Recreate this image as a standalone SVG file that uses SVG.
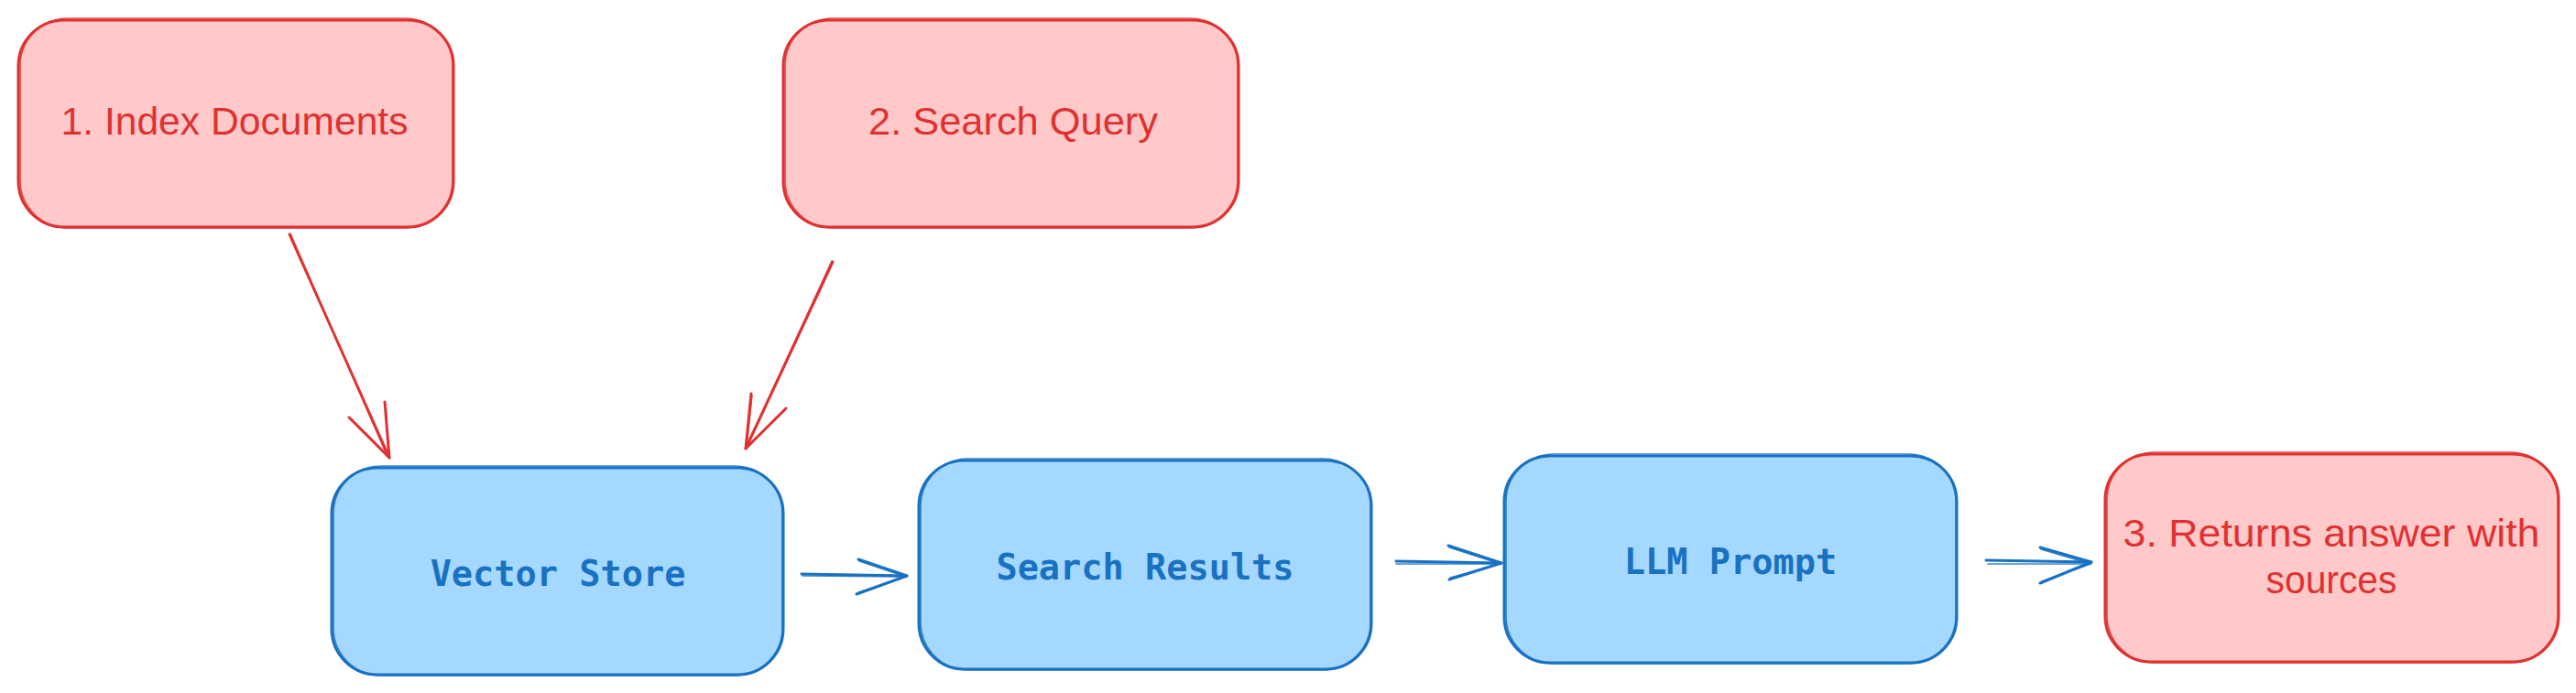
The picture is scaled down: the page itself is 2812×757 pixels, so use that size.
<svg xmlns="http://www.w3.org/2000/svg" width="2812" height="757" viewBox="0 0 2812 757">
  <defs>
    <style>
      .rfill { fill: #ffc9c9; stroke: none; }
      .bfill { fill: #a5d8ff; stroke: none; }
      .rs { fill: none; stroke: #e03131; stroke-width: 3; stroke-linecap: round; stroke-linejoin: round; }
      .bs { fill: none; stroke: #1971c2; stroke-width: 3; stroke-linecap: round; stroke-linejoin: round; }
      .rs2 { fill: none; stroke: #e03131; stroke-width: 1.6; stroke-linecap: round; opacity: 0.85; }
      .bs2 { fill: none; stroke: #1971c2; stroke-width: 1.6; stroke-linecap: round; opacity: 0.85; }
      .hand { font-family: "Liberation Sans", "Noto Sans", sans-serif; font-size: 43px; fill: #e03131; text-anchor: middle; }
      .mono { font-family: "DejaVu Sans Mono", "Liberation Mono", monospace; font-size: 38.6px; font-weight: bold; fill: #1971c2; text-anchor: middle; }
    </style>
  </defs>
  <rect width="2812" height="757" fill="#ffffff"/>

  <g id="node-index-documents">
    <rect class="rfill" x="21" y="23" width="474" height="225" rx="50"/>
    <rect class="rs" x="20" y="22" width="475" height="226" rx="50"/>
    <rect class="rs2" x="22" y="20" width="472" height="229" rx="52"/>
    <text class="hand" x="256" y="147" textLength="379" lengthAdjust="spacingAndGlyphs">1. Index Documents</text>
  </g>

  <g id="node-search-query">
    <rect class="rfill" x="856" y="23" width="496" height="225" rx="50"/>
    <rect class="rs" x="855" y="22" width="497" height="226" rx="50"/>
    <rect class="rs2" x="857" y="20" width="494" height="229" rx="52"/>
    <text class="hand" x="1106" y="147" textLength="316" lengthAdjust="spacingAndGlyphs">2. Search Query</text>
  </g>

  <g id="node-vector-store">
    <rect class="bfill" x="363" y="512" width="492" height="225" rx="50"/>
    <rect class="bs" x="362" y="511" width="493" height="226" rx="50"/>
    <rect class="bs2" x="364" y="509" width="490" height="229" rx="52"/>
    <text class="mono" x="609" y="640">Vector Store</text>
  </g>

  <g id="node-search-results">
    <rect class="bfill" x="1004" y="504" width="492" height="227" rx="50"/>
    <rect class="bs" x="1003" y="503" width="494" height="228" rx="50"/>
    <rect class="bs2" x="1005" y="501" width="491" height="231" rx="52"/>
    <text class="mono" x="1250" y="633">Search Results</text>
  </g>

  <g id="node-llm-prompt">
    <rect class="bfill" x="1643" y="499" width="492" height="225" rx="50"/>
    <rect class="bs" x="1642" y="498" width="494" height="226" rx="50"/>
    <rect class="bs2" x="1644" y="496" width="491" height="229" rx="52"/>
    <text class="mono" x="1889" y="627">LLM Prompt</text>
  </g>

  <g id="node-returns-answer">
    <rect class="rfill" x="2299" y="497" width="494" height="226" rx="50"/>
    <rect class="rs" x="2298" y="496" width="495" height="227" rx="50"/>
    <rect class="rs2" x="2300" y="494" width="492" height="230" rx="52"/>
    <text class="hand" x="2545" y="597" textLength="455" lengthAdjust="spacingAndGlyphs">3. Returns answer with</text>
    <text class="hand" x="2545" y="648" textLength="143" lengthAdjust="spacingAndGlyphs">sources</text>
  </g>

  <g id="connectors">
    <!-- Index Documents -> Vector Store -->
    <path class="rs" d="M316 256 L425 500"/>
    <path class="rs2" d="M317 255 L423 499"/>
    <path class="rs" d="M381 456 L425 500 L420 439"/>
    <path class="rs2" d="M383 457 L424 498 L421 441"/>
    <!-- Search Query -> Vector Store -->
    <path class="rs" d="M909 286 L814 490"/>
    <path class="rs2" d="M908 285 L815 488"/>
    <path class="rs" d="M820 430 L814 490 L858 446"/>
    <path class="rs2" d="M821 432 L815 488 L857 448"/>
    <!-- Vector Store -> Search Results -->
    <path class="bs" d="M875 627 L990 629"/>
    <path class="bs2" d="M876 629 L989 630"/>
    <path class="bs" d="M937 611 L990 629 L935 649"/>
    <path class="bs2" d="M938 613 L989 630 L937 647"/>
    <!-- Search Results -> LLM Prompt -->
    <path class="bs" d="M1524 613 L1639 615"/>
    <path class="bs2" d="M1524 616 L1638 616"/>
    <path class="bs" d="M1581 596 L1639 615 L1582 633"/>
    <path class="bs2" d="M1582 598 L1638 616 L1583 631"/>
    <!-- LLM Prompt -> Returns answer -->
    <path class="bs" d="M2168 612 L2283 614"/>
    <path class="bs2" d="M2170 616 L2282 616"/>
    <path class="bs" d="M2227 598 L2283 614 L2227 637"/>
    <path class="bs2" d="M2228 600 L2282 616 L2229 635"/>
  </g>
</svg>
